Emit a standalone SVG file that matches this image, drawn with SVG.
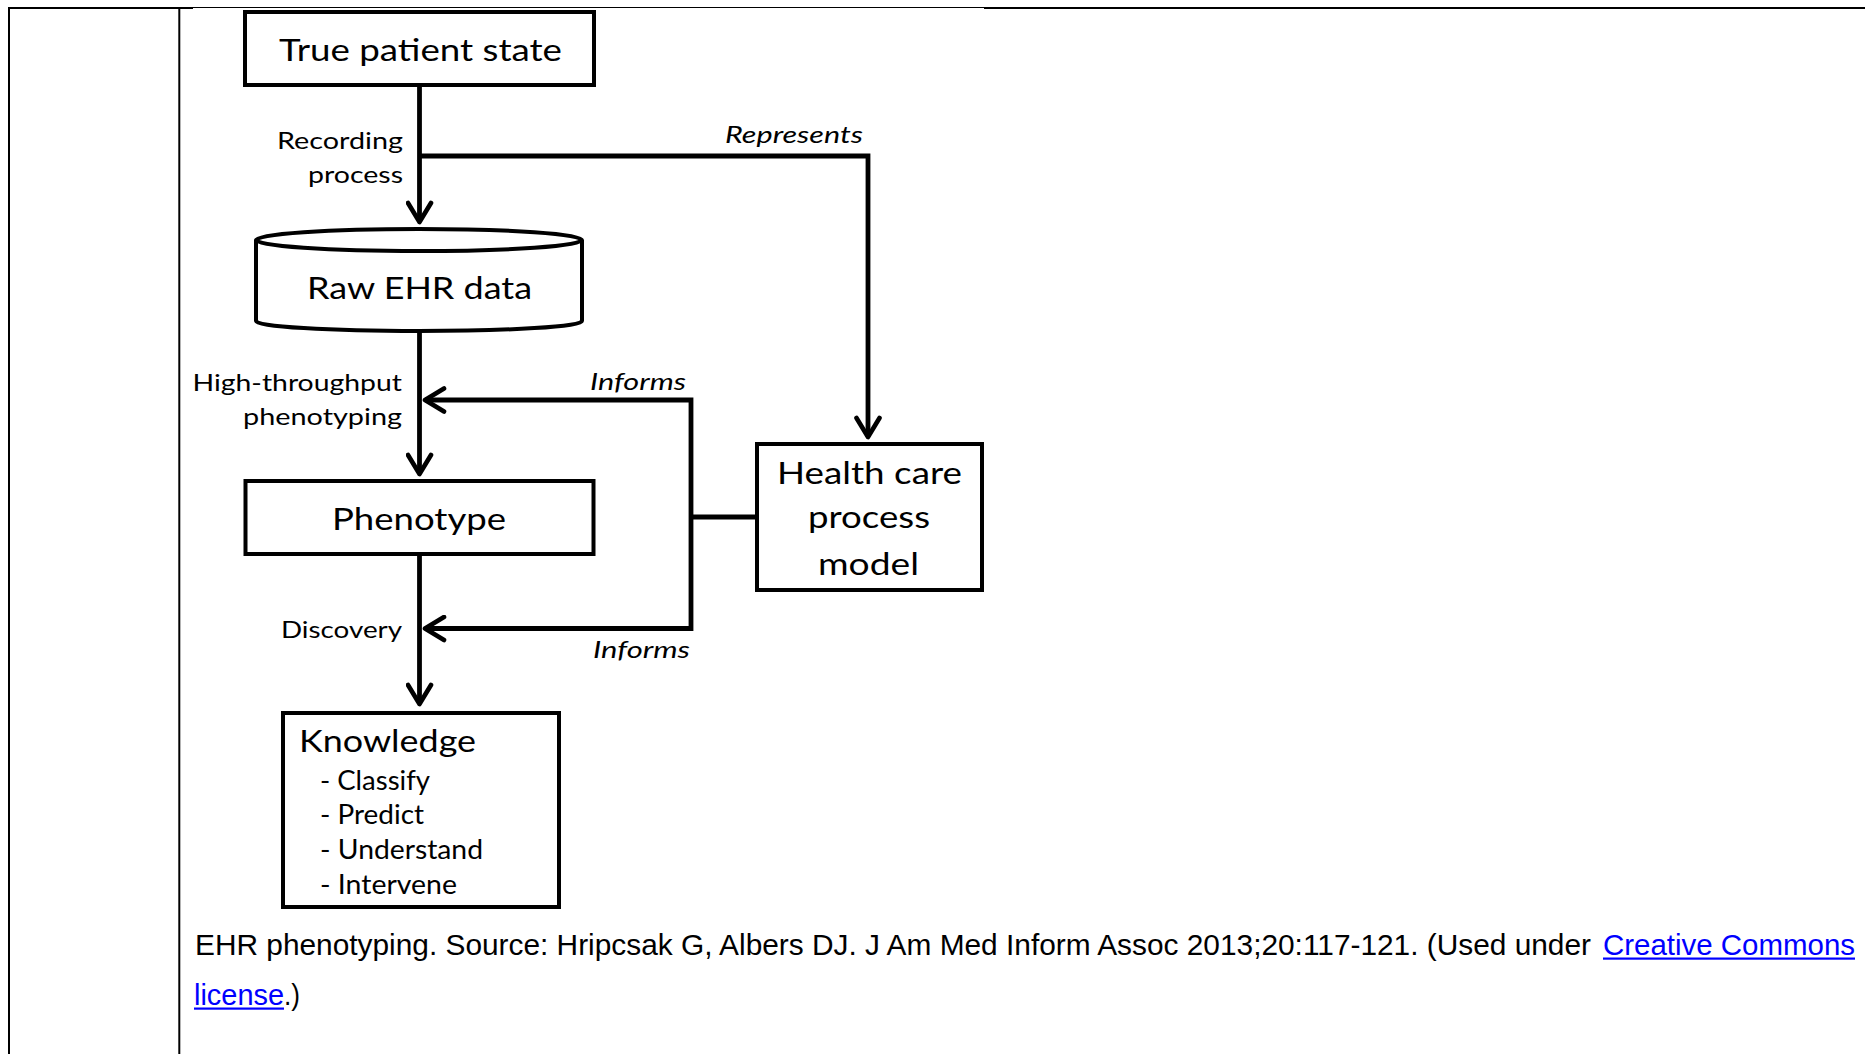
<svg xmlns="http://www.w3.org/2000/svg" width="1865" height="1054" viewBox="0 0 1865 1054">
<style>
.box{fill:#fff;stroke:#000;stroke-width:4;stroke-linejoin:miter}
.conn{fill:none;stroke:#000;stroke-width:4.8;stroke-linejoin:miter}
.t{font-family:Lato,"Open Sans","Liberation Sans",sans-serif;fill:#000}
.big{font-size:31px}
.sm{font-size:24px}
.it{font-style:italic}
.item{font-size:26px}
.cap{font-family:"Liberation Sans",Arial,sans-serif;font-size:29px;fill:#000}
.link{fill:#0000ff}
.border{stroke:#000;fill:none}
</style>
<defs>
<marker id="arr" markerUnits="userSpaceOnUse" viewBox="-24 -14 30 28" refX="0" refY="0" markerWidth="30" markerHeight="28" orient="auto">
<path d="M-19,-11.5 L0,0 L-19,11.5" fill="none" stroke="#000" stroke-width="4.6" stroke-linejoin="round" stroke-linecap="round"/>
</marker>
</defs>
<rect x="0" y="0" width="1865" height="1054" fill="#fff"/>
<!-- table borders -->
<g id="table">
<line class="border" x1="8" y1="8" x2="193" y2="8" stroke-width="2"/>
<line class="border" x1="193" y1="7.5" x2="984" y2="7.5" stroke-width="1"/>
<line class="border" x1="984" y1="8" x2="1865" y2="8" stroke-width="2"/>
<line class="border" x1="9" y1="7" x2="9" y2="1054" stroke-width="2"/>
<line class="border" x1="179.3" y1="7" x2="179.3" y2="1054" stroke-width="2"/>
</g>
<g id="connectors">
<path class="conn" d="M419.5,87 V222" marker-end="url(#arr)"/>
<path class="conn" d="M419.5,156 H868 V437" marker-end="url(#arr)"/>
<path class="conn" d="M419.5,332 V474" marker-end="url(#arr)"/>
<path class="conn" d="M419.5,556 V704" marker-end="url(#arr)"/>
<path class="conn" d="M691,517 V400 H425" marker-end="url(#arr)"/>
<path class="conn" d="M691,517 V628.5 H425" marker-end="url(#arr)"/>
<path class="conn" d="M757,517 H689"/>
<text class="t sm" x="277" y="149" textLength="126" lengthAdjust="spacingAndGlyphs">Recording</text>
<text class="t sm" x="308" y="183" textLength="95" lengthAdjust="spacingAndGlyphs">process</text>
<text class="t sm it" x="725" y="143" textLength="138" lengthAdjust="spacingAndGlyphs">Represents</text>
<text class="t sm" x="192.5" y="391" textLength="209.5" lengthAdjust="spacingAndGlyphs">High-throughput</text>
<text class="t sm" x="243" y="425" textLength="159" lengthAdjust="spacingAndGlyphs">phenotyping</text>
<text class="t sm it" x="590" y="390" textLength="96" lengthAdjust="spacingAndGlyphs">Informs</text>
<text class="t sm" x="281" y="638" textLength="121" lengthAdjust="spacingAndGlyphs">Discovery</text>
<text class="t sm it" x="593" y="658" textLength="97" lengthAdjust="spacingAndGlyphs">Informs</text>
</g>
<g id="true-patient-state">
<rect class="box" x="245" y="12" width="349" height="73"/>
<text class="t big" x="279" y="61" font-size="32" textLength="283" lengthAdjust="spacingAndGlyphs">True patient state</text>
</g>
<g id="raw-ehr-data">
<path class="box" d="M256,240 V321 A163,10 0 0 0 582,321 V240"/>
<ellipse class="box" cx="419" cy="240" rx="163" ry="11"/>
<text class="t big" x="307" y="299" textLength="225" lengthAdjust="spacingAndGlyphs">Raw EHR data</text>
</g>
<g id="phenotype">
<rect class="box" x="245.5" y="481" width="348" height="73"/>
<text class="t big" x="332" y="530" textLength="174" lengthAdjust="spacingAndGlyphs">Phenotype</text>
</g>
<g id="health-care-process-model">
<rect class="box" x="757" y="444" width="225" height="146"/>
<text class="t big" x="777" y="484" textLength="185" lengthAdjust="spacingAndGlyphs">Health care</text>
<text class="t big" x="808" y="528" textLength="122" lengthAdjust="spacingAndGlyphs">process</text>
<text class="t big" x="818" y="575" textLength="101" lengthAdjust="spacingAndGlyphs">model</text>
</g>
<g id="knowledge">
<rect class="box" x="283" y="713" width="276" height="194"/>
<text class="t big" x="299" y="752" font-size="32" textLength="177" lengthAdjust="spacingAndGlyphs">Knowledge</text>
<text class="t item" x="320" y="790" textLength="110" lengthAdjust="spacingAndGlyphs">- Classify</text>
<text class="t item" x="320" y="824" textLength="104" lengthAdjust="spacingAndGlyphs">- Predict</text>
<text class="t item" x="320" y="859" textLength="163" lengthAdjust="spacingAndGlyphs">- Understand</text>
<text class="t item" x="320" y="894" textLength="137" lengthAdjust="spacingAndGlyphs">- Intervene</text>
</g>
<g id="caption">
<text class="cap" x="195" y="955" textLength="1396" lengthAdjust="spacingAndGlyphs">EHR phenotyping. Source: Hripcsak G, Albers DJ. J Am Med Inform Assoc 2013;20:117-121. (Used under</text>
<text class="cap link" x="1603" y="955" textLength="252" lengthAdjust="spacingAndGlyphs">Creative Commons</text>
<rect class="link" x="1603" y="957.5" width="252" height="2.2"/>
<text class="cap link" x="194" y="1005" textLength="90" lengthAdjust="spacingAndGlyphs">license</text>
<rect class="link" x="194" y="1007.5" width="90" height="2.2"/>
<text class="cap" x="284" y="1005" textLength="16" lengthAdjust="spacingAndGlyphs">.)</text>
</g>
</svg>
